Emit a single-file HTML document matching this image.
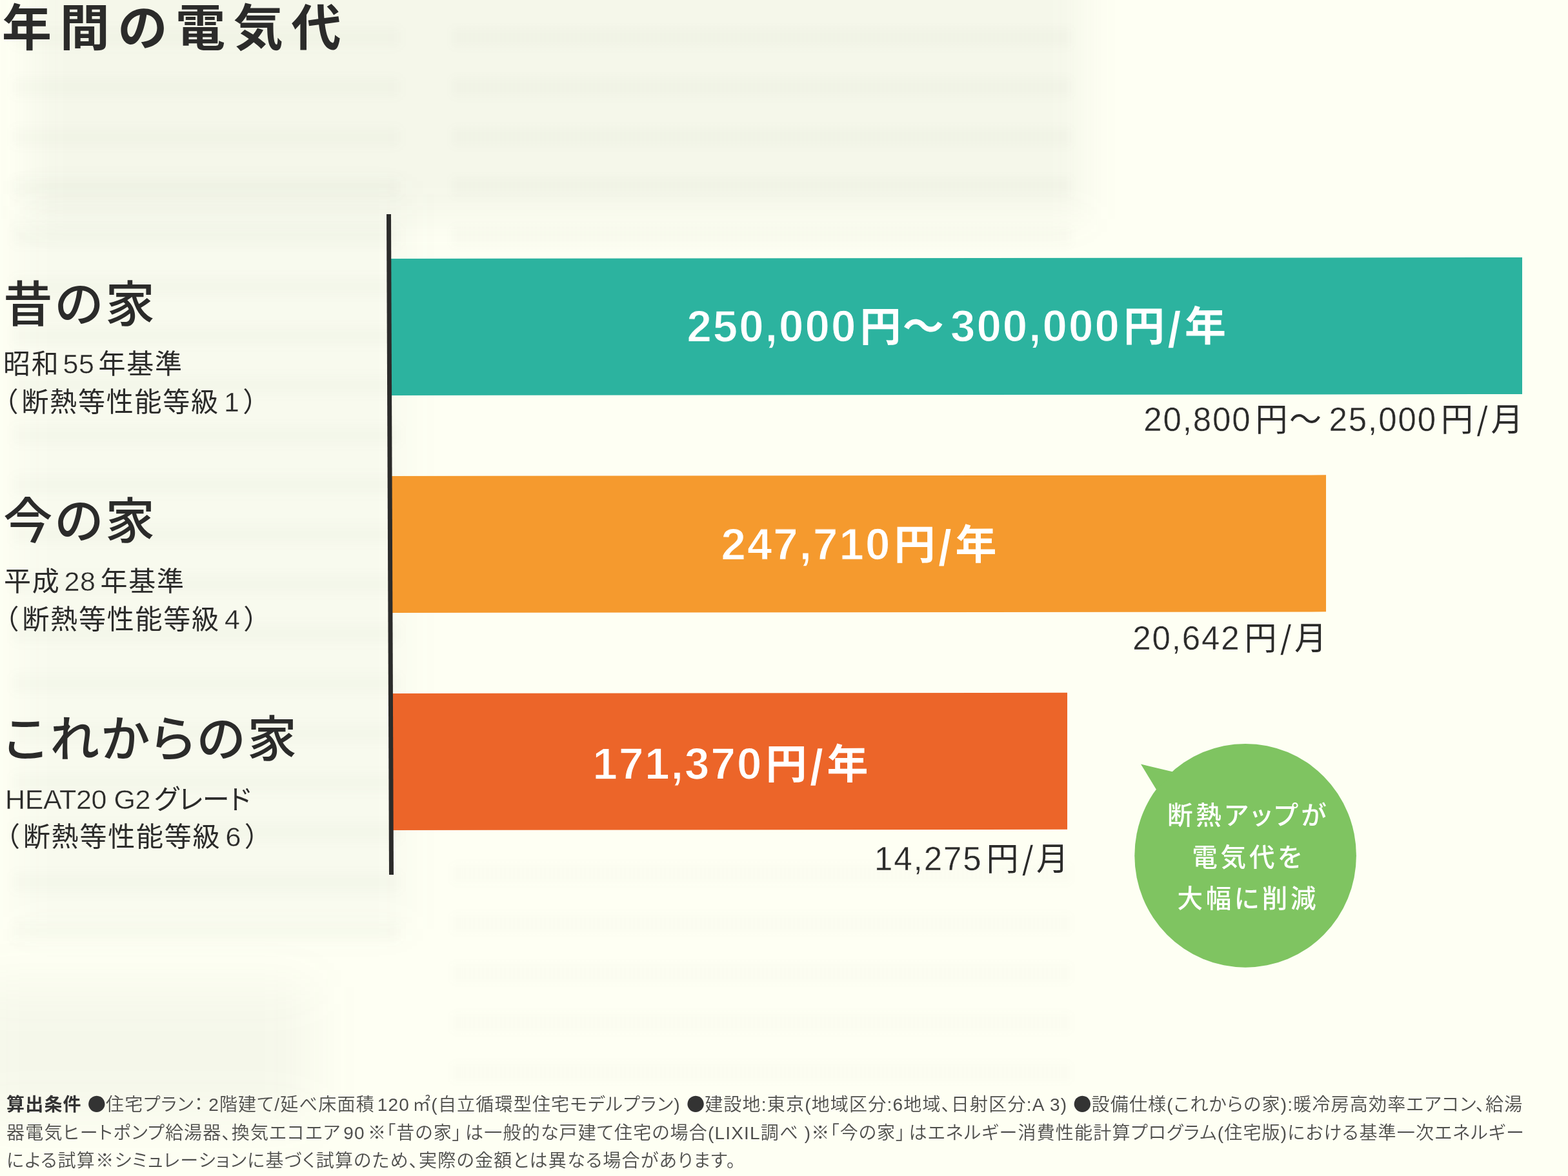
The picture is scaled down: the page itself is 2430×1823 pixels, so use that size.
<!DOCTYPE html>
<html lang="ja">
<head>
<meta charset="utf-8">
<title>年間の電気代</title>
<style>
html,body{margin:0;padding:0;}
body{width:2430px;height:1823px;background:#fefff3;font-family:"Liberation Sans","Noto Sans CJK JP",sans-serif;color:#2b2b2a;}
#page{position:relative;width:2430px;height:1823px;overflow:hidden;background:#fefff3;}
.abs{position:absolute;white-space:nowrap;margin:0;padding:0;}
.title{left:3px;top:-14px;font-size:77px;line-height:116px;font-weight:700;letter-spacing:12.7px;}
.h{font-size:76.5px;line-height:116px;font-weight:500;letter-spacing:4px;font-feature-settings:"palt";}
.sub{font-size:42px;line-height:60px;font-weight:400;letter-spacing:1.8px;}
.sub .n{font-size:43px;letter-spacing:0.5px;-webkit-text-stroke:0.4px #f6f8ea;}
.sub .k{font-feature-settings:"palt";letter-spacing:0px;}
.axis{left:598.8px;top:332px;width:7.3px;height:1024px;background:#2b2b2a;transform-origin:0 0;transform:skewX(0.2235deg);}
.bar{height:212px;transform-origin:0 0;transform:skewY(-0.065deg);color:#fff;font-weight:700;font-size:64px;line-height:220px;text-align:center;letter-spacing:2.2px;}
.bar .n{font-size:69px;letter-spacing:2.1px;}
.b1 .n{-webkit-text-stroke:1.2px #2cb39f;}
.b2 .n{-webkit-text-stroke:1.2px #f59a2e;}
.b3 .n{-webkit-text-stroke:1.2px #ec6529;}
.bar .d{margin-right:4px;}
.bar .s{margin:0 3px 0 1.5px;font-size:80px;position:relative;top:10px;line-height:0;}
.b1 .s{-webkit-text-stroke:2px #2cb39f;}
.b2 .s{-webkit-text-stroke:2px #f59a2e;}
.b3 .s{-webkit-text-stroke:2px #ec6529;}
.b1{left:604px;top:401px;width:1750.7px;padding-left:4px;background:#2cb39f;line-height:212.2px;}
.b2{left:605px;top:737.7px;width:1446.2px;padding-left:4px;background:#f59a2e;line-height:214.6px;}
.b3{left:606px;top:1075.2px;width:1042.2px;padding-left:6px;background:#ec6529;}
.m{font-size:50px;line-height:60px;font-weight:400;letter-spacing:2.5px;text-align:right;}
.m .n{font-size:51px;letter-spacing:1.9px;-webkit-text-stroke:0.4px #fefff3;}
.m .d{margin-right:6px;}
.m .s{margin:0 2.3px 0 2.5px;font-size:66px;position:relative;top:8.3px;line-height:0;-webkit-text-stroke:1.5px #fefff3;}
.bubble{left:1720px;top:1120px;width:420px;height:420px;}
.btxt{left:1732px;width:400px;text-align:center;color:#fff;font-size:39.5px;line-height:66px;font-weight:500;letter-spacing:4.8px;text-indent:4.8px;font-feature-settings:"palt";}
.note{left:10px;font-size:28px;line-height:44px;color:#4e4e4c;white-space:nowrap;font-weight:350;font-feature-settings:"palt";}
.note b{font-weight:700;color:#333;}
.note .dot{font-size:59px;line-height:0;position:relative;top:6px;margin:0 -3.7px;color:#333;letter-spacing:0;}
.note .g{margin:0 4px;}

.tex{position:absolute;left:0;top:0;width:2430px;height:1823px;overflow:hidden;pointer-events:none;}
.tex i{position:absolute;display:block;}
.tex .a{left:50px;top:-60px;width:1630px;height:400px;background:rgba(97,112,100,0.058);filter:blur(28px);}
.tex .b{left:30px;top:300px;width:600px;height:1140px;background:rgba(97,112,100,0.036);filter:blur(28px);}
.tex .c{left:-40px;top:1530px;width:520px;height:200px;background:rgba(97,112,100,0.06);filter:blur(40px);}
.tex .l1{left:20px;top:0;width:600px;height:1460px;background:repeating-linear-gradient(to bottom,rgba(97,112,100,0) 0,rgba(97,112,100,0) 40px,rgba(97,112,100,0.024) 46px,rgba(97,112,100,0.024) 70px,rgba(97,112,100,0) 77px);filter:blur(7px);}
.tex .l2{left:700px;top:0;width:960px;height:400px;background:repeating-linear-gradient(to bottom,rgba(97,112,100,0) 0,rgba(97,112,100,0) 40px,rgba(97,112,100,0.024) 46px,rgba(97,112,100,0.024) 70px,rgba(97,112,100,0) 77px);filter:blur(6px);}
.tex .l3{left:700px;top:1296px;width:960px;height:390px;background:repeating-linear-gradient(to bottom,rgba(97,112,100,0) 0,rgba(97,112,100,0) 40px,rgba(97,112,100,0.014) 46px,rgba(97,112,100,0.014) 70px,rgba(97,112,100,0) 77px);filter:blur(6px);}
</style>
</head>
<body>
<div id="page">
  <div class="tex"><i class="a"></i><i class="b"></i><i class="c"></i><i class="l1"></i><i class="l2"></i><i class="l3"></i></div>
  <h1 class="abs title">年間の電気代</h1>


  <div class="abs h" style="left:5px;top:415px;">昔の家</div>
  <div class="abs sub" style="left:5px;top:534px;">昭和<span class="n" style="margin:0 6px 0 5px">55</span>年基準</div>
  <div class="abs sub" style="left:-13.5px;top:593px;">（<span style="margin-left:3px">断熱等性能等級</span><span class="n" style="margin:0 5px 0 7px">1</span>）</div>

  <div class="abs h" style="left:5px;top:751px;">今の家</div>
  <div class="abs sub" style="left:6px;top:871px;">平成<span class="n" style="margin:0 7px 0 6px">28</span>年基準</div>
  <div class="abs sub" style="left:-12.5px;top:930px;">（<span style="margin-left:3px">断熱等性能等級</span><span class="n" style="margin:0 5px 0 7px">4</span>）</div>

  <div class="abs h" style="left:6.5px;top:1089px;">これからの家</div>
  <div class="abs sub" style="left:8px;top:1209px;"><span class="n" style="letter-spacing:-0.4px;margin-right:6px">HEAT20 G2</span><span class="k">グレード</span></div>
  <div class="abs sub" style="left:-11px;top:1267px;">（<span style="margin-left:3px">断熱等性能等級</span><span class="n" style="margin:0 5px 0 7px">6</span>）</div>

  <div class="abs bar b1"><span class="n d">250,000</span>円<span style="margin-right:8px">～</span><span class="n d">300,000</span>円<span class="n s">/</span>年</div>
  <div class="abs bar b2"><span class="n d">247,710</span>円<span class="n s">/</span>年</div>
  <div class="abs bar b3"><span class="n d">171,370</span>円<span class="n s">/</span>年</div>

  <div class="abs axis"></div>

  <div class="abs m" style="right:67px;top:621px;"><span class="n d">20,800</span>円<span style="margin-right:9px">～</span><span class="n d">25,000</span>円<span class="n s">/</span>月</div>
  <div class="abs m" style="right:371.4px;top:960px;"><span class="n d">20,642</span>円<span class="n s">/</span>月</div>
  <div class="abs m" style="right:771.5px;top:1302px;"><span class="n d">14,275</span>円<span class="n s">/</span>月</div>

  <svg class="abs bubble" viewBox="0 0 420 420" width="420" height="420">
    <ellipse cx="210.1" cy="206.3" rx="171.8" ry="173.4" fill="#7fc461"/>
    <path d="M48 64.5 L100 77 L72 104 Z" fill="#7fc461"/>
  </svg>
  <div class="abs btxt" style="top:1231px;">断熱アップが</div>
  <div class="abs btxt" style="top:1296px;">電気代を</div>
  <div class="abs btxt" style="top:1360px;">大幅に削減</div>

  <div class="abs note" style="top:1691px;letter-spacing:1.2px;"><b>算出条件</b> <span class="dot">●</span>住宅プラン<span style="margin-right:7px">：</span><span class="n">2</span>階建て<span class="n">/</span>延べ床面積<span class="n g">120</span>㎡<span class="n">(</span>自立循環型住宅モデルプラン<span class="n">)</span> <span class="dot">●</span>建設地<span class="n">:</span>東京<span class="n">(</span>地域区分<span class="n">:6</span>地域、日射区分<span class="n">:A 3)</span> <span class="dot">●</span>設備仕様<span class="n">(</span>これからの家<span class="n">):</span>暖冷房高効率エアコン、給湯</div>
  <div class="abs note" style="top:1734.5px;letter-spacing:1.2px;">器電気ヒートポンプ給湯器、換気エコエア<span class="n g">90</span>※「昔の家<span style="margin-right:5px">」</span>は一般的な戸建て住宅の場合<span class="n">(LIXIL</span>調べ <span class="n">)</span>※「今の家<span style="margin-right:5px">」</span>はエネルギー消費性能計算プログラム<span class="n">(</span>住宅版<span class="n">)</span>における基準一次エネルギー</div>
  <div class="abs note" style="top:1778px;letter-spacing:1.3px;">による試算※シミュレーションに基づく試算のため、実際の金額とは異なる場合があります。</div>
</div>
</body>
</html>
